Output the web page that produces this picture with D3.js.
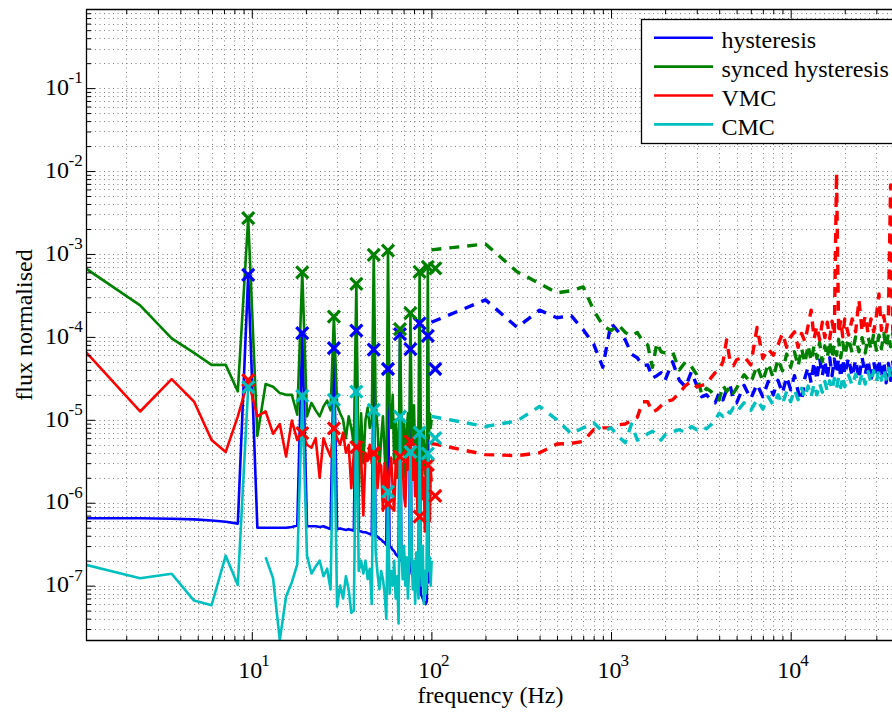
<!DOCTYPE html>
<html><head><meta charset="utf-8">
<script src="https://cdn.jsdelivr.net/npm/d3@7"></script>
<style>body{margin:0;background:#fff} text{font-family:"Liberation Serif","Times New Roman",serif;fill:#000}</style>
</head><body><svg id="c" width="892" height="713" font-family="Liberation Serif, Times New Roman, serif"></svg>
<script>
// ---------- DATA ----------
const seriesNames = ["hysteresis","synced hysteresis","VMC","CMC"];
const seriesColors = ["#0000ff","#008000","#ff0000","#00bfbf"];

// low-frequency FFT bins (solid lines)
const binFreq = [1.19,2.39,3.58,4.77,5.97,7.16,8.36,9.55,10.74,11.94,
13.13,14.32,15.52,16.71,17.91,19.10,20.29,21.49,22.68,23.87,
25.07,26.26,27.45,28.65,29.84,31.04,32.23,33.42,34.62,35.81,
37.00,38.20,39.39,40.58,41.78,42.97,44.17,45.36,46.55,47.75,
48.94,50.13,51.33,52.52,53.71,54.91,56.10,57.30,58.49,59.68,
60.88,62.07,63.26,64.46,65.65,66.85,68.04,69.23,70.43,71.62,
72.81,74.01,75.20,76.39,77.59,78.78,79.98,81.17,82.36,83.56,
84.75,85.94,87.14,88.33,89.52,90.72,91.91,93.11,94.30,95.49,
96.69,97.88,99.07,100.27];

const hystLow = [6.5e-7,6.5e-7,6.4e-7,6.3e-7,6.1e-7,5.9e-7,5.6e-7,5.6e-4,5.0e-7,5.0e-7,
5.0e-7,5.0e-7,5.0e-7,5.1e-7,5.3e-7,1.11e-4,5.2e-7,5.2e-7,5.2e-7,5.1e-7,
5.2e-7,5.0e-7,4.8e-7,7.3e-5,4.8e-7,4.9e-7,4.8e-7,4.7e-7,4.8e-7,4.7e-7,
4.6e-7,1.19e-4,4.6e-7,4.5e-7,4.4e-7,4.4e-7,4.3e-7,4.2e-7,4.1e-7,7.0e-5,
4.0e-7,3.9e-7,3.7e-7,3.6e-7,3.4e-7,3.3e-7,3.1e-7,4.1e-5,3.0e-7,2.9e-7,
2.7e-7,2.6e-7,2.4e-7,2.3e-7,2.2e-7,1.08e-4,2.0e-7,1.9e-7,1.8e-7,1.7e-7,
1.65e-7,1.6e-7,1.5e-7,7.1e-5,1.4e-7,1.3e-7,1.2e-7,1.1e-7,1.0e-7,9e-8,
8.5e-8,1.46e-4,8e-8,7.5e-8,7e-8,6.5e-8,6.2e-8,6e-8,6.5e-8,1.03e-4,
1.1e-7,1.15e-7,1.2e-7,1.2e-7];

const syncLow = [6.7e-4,2.4e-4,9.6e-5,6.4e-5,4.6e-5,4.6e-5,2.2e-5,2.7e-3,6.4e-6,2.7e-5,
2.5e-5,2.1e-5,2.0e-5,2.0e-5,1.15e-5,6.0e-4,1.1e-5,1.6e-5,1.3e-5,1.1e-5,
1.45e-5,1.7e-5,1.3e-5,1.76e-4,1.5e-5,1.2e-5,1.0e-5,6e-6,1.1e-5,8e-6,
5e-6,4.35e-4,1.2e-6,1.2e-5,3e-6,1.0e-5,1.4e-5,8e-6,1.0e-5,9.75e-4,
1.5e-5,8e-6,2.5e-6,6e-6,1.1e-5,4e-6,1.4e-6,1.1e-3,1.6e-5,8e-6,
2e-5,3e-6,1.0e-5,5e-6,2e-6,1.24e-4,1.2e-5,4e-6,9e-6,2e-6,
7e-6,1.2e-5,3e-6,1.93e-4,1.2e-5,5e-6,1.5e-5,3e-6,8e-6,1.8e-6,
1e-5,6.1e-4,1.0e-5,4e-6,2.5e-6,8e-6,2.2e-6,5e-6,1.5e-6,7.0e-4,
6e-6,1.2e-5,8e-6,1.0e-5];

const vmcLow = [6.6e-5,1.26e-5,3.1e-5,1.66e-5,5.7e-6,4.1e-6,1.1e-5,3.0e-5,1.1e-5,1.26e-5,
6.8e-6,8.9e-6,3.6e-6,9.8e-6,5.7e-6,6.9e-6,5.0e-6,4.6e-6,6.0e-6,2.0e-6,
6.0e-6,4.5e-6,3.6e-6,7.9e-6,6e-6,5e-6,7e-6,4e-6,5e-6,1.5e-6,
4e-6,4.67e-6,5.5e-6,3.8e-6,7e-7,4e-6,3.2e-6,5e-6,3e-6,3.95e-6,
4.5e-6,1.5e-6,3e-6,2.8e-6,8e-7,3e-6,2e-6,9.7e-7,2.5e-6,3.5e-6,
1.5e-6,8e-7,3e-6,2e-6,4e-6,3.6e-6,2e-6,3e-6,1.2e-6,9e-7,
3.5e-6,2.5e-6,4e-6,5.5e-6,3e-6,1.9e-6,4e-6,1.2e-6,3e-6,8e-7,
2.5e-6,6.8e-7,2e-6,3e-6,1.1e-6,2.0e-6,4.5e-7,2.5e-6,1.5e-6,2.86e-6,
2e-6,6e-7,2.5e-6,1.8e-6];

const cmcLow = [1.78e-7,1.23e-7,1.39e-7,6.6e-8,5.8e-8,2.3e-7,1.02e-7,2.47e-5,null,2.2e-7,
1.23e-7,2.2e-8,7.4e-8,1.1e-7,1.8e-7,1.94e-5,2.3e-7,1.4e-7,1.7e-7,2.0e-7,
1.3e-7,1.6e-7,9e-8,1.74e-5,5.6e-8,1.0e-7,7e-8,1.3e-7,9e-8,4.7e-8,
5.0e-8,2.19e-5,1.5e-7,2.0e-7,1.4e-7,2.0e-7,1.2e-7,1.6e-7,6e-8,1.32e-5,
2.5e-7,1.4e-7,9e-8,1.5e-7,1.2e-7,8e-8,4e-8,1.36e-6,8e-8,1.5e-7,
1.0e-7,2e-7,7e-8,1.3e-7,3.5e-8,1.09e-5,2.5e-7,1.2e-7,3e-7,1.0e-7,
2.2e-7,7e-8,1.8e-7,4.1e-6,2.8e-7,9e-8,2.0e-7,6e-8,2.5e-7,1.2e-7,
7e-8,7.0e-6,2.0e-7,1.0e-7,3e-7,6e-8,1.5e-7,8e-8,1.1e-7,3.9e-6,
1.5e-7,2.2e-7,1.0e-7,2.0e-7];

// harmonic markers (x)
const harmFreq = [9.55,19.10,28.65,38.20,47.75,57.30,66.85,76.39,85.94,95.49,105.04];
const hystHarm = [5.6e-4,1.11e-4,7.3e-5,1.19e-4,7.0e-5,4.1e-5,1.08e-4,7.1e-5,1.46e-4,1.03e-4,4.1e-5];
const syncHarm = [2.7e-3,6.0e-4,1.76e-4,4.35e-4,9.75e-4,1.1e-3,1.24e-4,1.93e-4,6.1e-4,7.0e-4,6.7e-4];
const vmcHarm  = [3.0e-5,6.9e-6,7.9e-6,4.67e-6,3.95e-6,9.7e-7,3.6e-6,5.5e-6,6.8e-7,2.86e-6,1.21e-6];
const cmcHarm  = [2.47e-5,1.94e-5,1.74e-5,2.19e-5,1.32e-5,1.36e-6,1.09e-5,4.1e-6,7.0e-6,3.9e-6,6.0e-6];

// high-frequency spectrum (dashed lines)
const hiFreq = [100,200,300,400,500,600,700,800,900,1000,1100,1200,1300,1400,1500,1600,1700,1800,1900,2000,
2200,2400,2600,2800,3000,3200,3400,3600,3800,4000,4200,4400,4600,4800,5000,
5500,6000,6500,7000,7500,8000,8500,9000,9500,10000,10500,11000,11500,12000,12500,13000,13500,14000,14500,15000,15500,16000,16500,17000,17500,18000,18500,19000,19500,20000,
21000,22000,23000,24000,25000,26000,27000,28000,29000,30000,31000,32000,33000,34000,35000,36000,37000,38000];

const hystHigh = [1.5e-4,2.8e-4,1.3e-4,2.1e-4,1.7e-4,1.8e-4,1.22e-4,8.2e-5,4.3e-5,1.46e-4,1.15e-4,9.2e-5,6.2e-5,5.6e-5,4.5e-5,4.6e-5,3.2e-5,3.4e-5,3.7e-5,3.0e-5,
5.0e-5,3.0e-5,2.5e-5,3.8e-5,2.6e-5,1.9e-5,2.0e-5,1.74e-5,1.6e-5,2.1e-5,1.74e-5,2.3e-5,2.6e-5,1.74e-5,1.6e-5,
2.6e-5,1.8e-5,2.7e-5,1.9e-5,2.9e-5,2.0e-5,3.0e-5,2.1e-5,3.3e-5,2.3e-5,3.4e-5,2.2e-5,1.7e-5,3.2e-5,4.3e-5,2.8e-5,5.0e-5,3.0e-5,5.5e-5,3.4e-5,5.2e-5,3.1e-5,5.6e-5,3.4e-5,5.4e-5,3.6e-5,5.5e-5,3.2e-5,5.4e-5,3.5e-5,
5.6e-5,3.3e-5,5.3e-5,3.1e-5,5.6e-5,3.5e-5,5.3e-5,3.0e-5,5.0e-5,3.3e-5,5.4e-5,3.2e-5,5.1e-5,2.8e-5,4.8e-5,3.0e-5,5.0e-5,3.3e-5];

const syncHigh = [1.12e-3,1.32e-3,6.1e-4,4.4e-4,3.4e-4,3.6e-4,4.0e-4,2.1e-4,1.37e-4,1.19e-4,1.4e-4,1.13e-4,1.03e-4,1.13e-4,8.8e-5,8.0e-5,4.3e-5,8.5e-5,6.6e-5,6.4e-5,
6.6e-5,4.0e-5,5.0e-5,4.4e-5,3.5e-5,2.0e-5,2.4e-5,2.2e-5,1.9e-5,1.74e-5,2.6e-5,2.2e-5,2.5e-5,2.1e-5,2.4e-5,
3.5e-5,2.8e-5,4.5e-5,2.9e-5,4.8e-5,3.2e-5,5.4e-5,3.9e-5,6.2e-5,4.3e-5,6.6e-5,4.4e-5,7.3e-5,4.8e-5,8.0e-5,5.1e-5,7.8e-5,5.5e-5,8.6e-5,5.0e-5,7.8e-5,5.6e-5,9.0e-5,5.5e-5,8.2e-5,6.0e-5,9.3e-5,5.6e-5,8.6e-5,6.0e-5,
9.6e-5,6.4e-5,1.0e-4,6.6e-5,9.8e-5,6.4e-5,1.0e-4,7.0e-5,1.1e-4,6.9e-5,1.05e-4,7.2e-5,1.1e-4,7.4e-5,1.1e-4,7.6e-5,1.12e-4,7.5e-5];

const vmcHigh = [5.2e-6,3.8e-6,3.7e-6,4.0e-6,5.1e-6,5.2e-6,5.5e-6,7.6e-6,8.0e-6,8.0e-6,8.7e-6,8.9e-6,9.8e-6,1.07e-5,1.65e-5,1.65e-5,1.24e-5,1.32e-5,1.48e-5,1.65e-5,
1.74e-5,2.1e-5,2.6e-5,2.9e-5,2.5e-5,2.6e-5,2.7e-5,3.2e-5,3.7e-5,4.0e-5,5.0e-5,9.2e-5,5.0e-5,4.5e-5,5.3e-5,
5.8e-5,4.6e-5,1.3e-4,5.5e-5,7.2e-5,6.0e-5,8.0e-5,1.1e-4,7.5e-5,1.0e-4,1.15e-4,7.5e-5,1.1e-4,8.8e-5,1.35e-4,2.1e-4,9.5e-5,1.35e-4,9.2e-5,1.5e-4,9.8e-5,1.5e-4,9.5e-5,1.55e-4,1.05e-4,9.5e-3,1.1e-4,1.6e-4,1.0e-4,1.65e-4,
1.05e-4,1.65e-4,1.15e-4,2.8e-4,1.15e-4,1.8e-4,1.1e-4,1.65e-4,1.15e-4,1.8e-4,3.3e-4,1.2e-4,1.8e-4,1.15e-4,1.75e-4,6.8e-3,1.2e-4,1.8e-4];

const cmcHigh = [1.1e-5,8.3e-6,9.7e-6,1.45e-5,1.0e-5,6.8e-6,8.0e-6,9.2e-6,7.2e-6,8.0e-6,6.3e-6,5.3e-6,8.9e-6,5.7e-6,6.0e-6,6.8e-6,7.3e-6,6.5e-6,5.7e-6,6.6e-6,
7.2e-6,7.6e-6,7.0e-6,8.3e-6,7.6e-6,8.3e-6,7.8e-6,8.7e-6,1.0e-5,1.2e-5,1.1e-5,1.3e-5,1.2e-5,1.4e-5,1.25e-5,
1.6e-5,1.3e-5,1.75e-5,1.35e-5,1.9e-5,1.5e-5,2.0e-5,1.55e-5,2.2e-5,1.65e-5,2.3e-5,1.75e-5,2.4e-5,1.85e-5,2.55e-5,1.9e-5,2.7e-5,2.0e-5,2.75e-5,2.15e-5,2.9e-5,2.2e-5,2.95e-5,2.3e-5,3.15e-5,2.4e-5,3.25e-5,2.45e-5,3.35e-5,2.5e-5,
3.45e-5,2.6e-5,3.55e-5,2.6e-5,3.7e-5,2.7e-5,3.8e-5,2.8e-5,3.9e-5,2.9e-5,4.0e-5,3.0e-5,4.1e-5,3.1e-5,4.2e-5,3.2e-5,4.3e-5,3.3e-5];

const xTickValues = [10,100,1000,10000];
const yTickValues = [1e-7,1e-6,1e-5,1e-4,1e-3,1e-2,1e-1];
const xLabel = "frequency (Hz)";
const yLabel = "flux normalised";

// ---------- CHART ----------
const lowSets  = [hystLow, syncLow, vmcLow, cmcLow];
const harmSets = [hystHarm, syncHarm, vmcHarm, cmcHarm];
const highSets = [hystHigh, syncHigh, vmcHigh, cmcHigh];

const X0 = 86, X1 = 908, Y0 = 9, Y1 = 641;
const x = d3.scaleLog().domain([1.194, 45000]).range([X0, X1]);
const y = d3.scaleLog().domain([2.15e-8, 0.9]).range([Y1, Y0]);
const svg = d3.select("#c");

svg.append("defs").append("clipPath").attr("id","clip")
  .append("rect").attr("x",X0).attr("y",Y0).attr("width",X1-X0).attr("height",Y1-Y0);

// tick positions (major + minor)
const xAll = [], yAll = [];
for (let e = 0; e <= 4; e++) for (let k = 1; k <= 9; k++) { const v = k*Math.pow(10,e); if (v >= x.domain()[0] && v <= x.domain()[1]) xAll.push(v); }
for (let e = -8; e <= -1; e++) for (let k = 1; k <= 9; k++) { const v = k*Math.pow(10,e); if (v >= y.domain()[0] && v <= y.domain()[1]) yAll.push(v); }
const xMinor = xAll.filter(v => !xTickValues.some(t => Math.abs(t-v)/t < 1e-9));
const yMinor = yAll.filter(v => !yTickValues.some(t => Math.abs(t-v)/t < 1e-9));

// dotted grid
const grid = svg.append("g").attr("stroke","#000").attr("stroke-width",1)
  .attr("stroke-dasharray","1,3.5").attr("opacity",0.5);
grid.selectAll(".gx").data(xAll).join("line")
  .attr("x1", d => Math.round(x(d))+0.5).attr("x2", d => Math.round(x(d))+0.5)
  .attr("y1", Y0).attr("y2", Y1);
grid.selectAll(".gy").data(yAll).join("line")
  .attr("y1", d => Math.round(y(d))+0.5).attr("y2", d => Math.round(y(d))+0.5)
  .attr("x1", X0).attr("x2", X1);

// data
const plot = svg.append("g").attr("clip-path","url(#clip)");
const line = d3.line().defined(d => d.v != null && d.v > 0).x(d => x(d.f)).y(d => y(d.v));

seriesNames.forEach((name, i) => {
  const lo = binFreq.map((f, j) => ({f, v: lowSets[i][j]}));
  plot.append("path").datum(lo).attr("d", line)
    .attr("fill","none").attr("stroke", seriesColors[i]).attr("stroke-width",2.6)
    .attr("stroke-linejoin","round");
});
seriesNames.forEach((name, i) => {
  const hi = hiFreq.map((f, j) => ({f, v: highSets[i][j]}));
  plot.append("path").datum(hi).attr("d", line)
    .attr("fill","none").attr("stroke", seriesColors[i]).attr("stroke-width",3.4)
    .attr("stroke-dasharray","10,8").attr("stroke-linejoin","round");
});
seriesNames.forEach((name, i) => {
  const pts = harmFreq.map((f, j) => ({f, v: harmSets[i][j]}));
  plot.append("g").selectAll("path").data(pts).join("path")
    .attr("transform", d => `translate(${x(d.f)},${y(d.v)})`)
    .attr("d","M-6,-6L6,6M-6,6L6,-6")
    .attr("stroke", seriesColors[i]).attr("stroke-width",3.2).attr("fill","none");
});

// axes ticks (inward)
function ticks(gen, vals, size, tr) {
  const g = svg.append("g").attr("transform", tr)
    .call(gen.tickValues(vals).tickSizeInner(size).tickSizeOuter(0).tickFormat(() => ""));
  g.select(".domain").remove();
  g.selectAll("line").attr("stroke","#000");
}
ticks(d3.axisBottom(x), xTickValues, -9, `translate(0,${Y1})`);
ticks(d3.axisBottom(x), xMinor, -5, `translate(0,${Y1})`);
ticks(d3.axisTop(x), xTickValues, -9, `translate(0,${Y0})`);
ticks(d3.axisTop(x), xMinor, -5, `translate(0,${Y0})`);
ticks(d3.axisLeft(y), yTickValues, -9, `translate(${X0},0)`);
ticks(d3.axisLeft(y), yMinor, -5, `translate(${X0},0)`);

// box
svg.append("path").attr("d", `M${X1},${Y0+0.5}H${X0+0.5}V${Y1-0.5}H${X1}`)
  .attr("fill","none").attr("stroke","#000").attr("stroke-width",1.3);

// tick labels
xTickValues.forEach(v => {
  const e = Math.round(Math.log10(v));
  svg.append("text").attr("x", x(v)-1.5).attr("y", 678).attr("text-anchor","middle")
    .attr("font-size",24).text("10");
  svg.append("text").attr("x", x(v)+9.5).attr("y", 666).attr("text-anchor","start")
    .attr("font-size",17).text(e);
});
yTickValues.forEach(v => {
  const e = Math.round(Math.log10(v));
  svg.append("text").attr("x", 69).attr("y", y(v)+6.7).attr("text-anchor","end")
    .attr("font-size",24).text("10");
  svg.append("text").attr("x", 68.5).attr("y", y(v)-5).attr("text-anchor","start")
    .attr("font-size",17).text("-" + Math.abs(e));
});

// axis labels
svg.append("text").attr("x", 490.5).attr("y", 703).attr("text-anchor","middle")
  .attr("font-size",24).text(xLabel);
svg.append("text").attr("transform","translate(31.5,325) rotate(-90)")
  .attr("text-anchor","middle").attr("font-size",24).text(yLabel);

// legend
const lg = svg.append("g");
lg.append("rect").attr("x",641.5).attr("y",19.5).attr("width",272).attr("height",124)
  .attr("fill","#fff").attr("stroke","#000").attr("stroke-width",1.3);
seriesNames.forEach((name, i) => {
  const ly = 37.7 + i*28.9;
  lg.append("line").attr("x1",654).attr("x2",713).attr("y1",ly).attr("y2",ly)
    .attr("stroke", seriesColors[i]).attr("stroke-width",2.6);
  lg.append("text").attr("x",721.5).attr("y",ly+10.7).attr("font-size",24).text(name);
});
</script>
</body></html>
